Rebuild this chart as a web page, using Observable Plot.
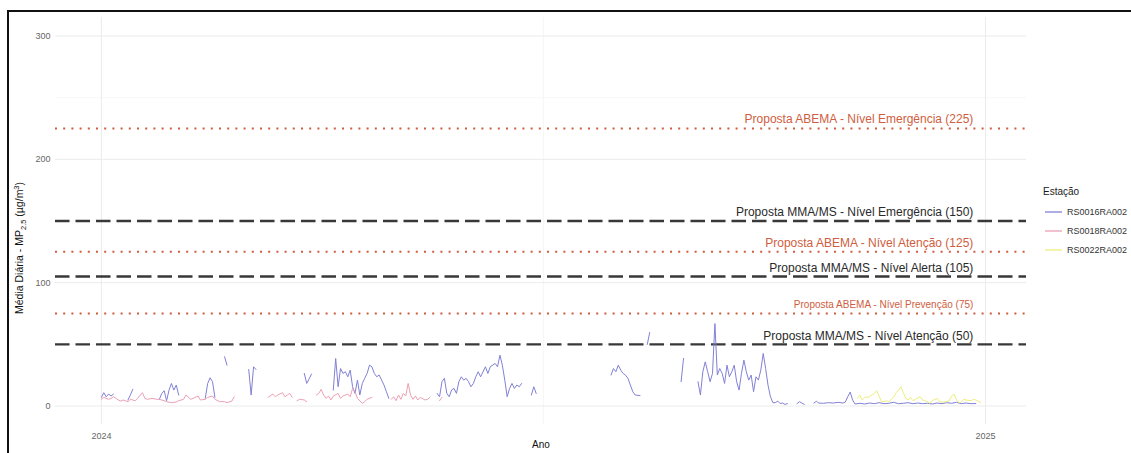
<!DOCTYPE html>
<html>
<head>
<meta charset="utf-8">
<script src="https://cdn.jsdelivr.net/npm/d3@7"></script>
<script src="https://cdn.jsdelivr.net/npm/@observablehq/plot@0.6"></script>
<style>
  html, body { margin: 0; padding: 0; background: #fff; }
  #wrap { position: relative; width: 1131px; height: 453px; overflow: hidden;
          font-family: "Liberation Sans", Arial, sans-serif; }
  #frame { position: absolute; left: 7px; top: 10px; width: 1300px; height: 600px;
           border-top: 2px solid #111; border-left: 2px solid #111; box-sizing: border-box; }
  #chart { position: absolute; left: 0; top: 0; }
  #legend { position: absolute; left: 1043px; top: 185px; }
  #legend .title { font-size: 10px; line-height: 14px; color: #1a1a1a; margin-bottom: 3px; }
  #legend .row { display: flex; align-items: center; height: 19px; font-size: 9px; color: #333; }
</style>
</head>
<body>
<div id="wrap">
  <div id="frame"></div>
  <div id="chart"></div>
  <div id="legend"></div>
</div>
<script>
// Daily mean PM2.5 per station, 2024: [day of year (0 = 1 Jan), µg/m³]; null breaks the line
const rs0016 = [
  [0,7.0],[1,10.8],[2,7.5],[3,9.7],[4,8.1],[5,9.7],[6,null],
  [11,4.9],[12,9.0],[13,13.5],[14,null],
  [24,5.4],[25,10.2],[26,12.4],[27,4.3],[28,12.9],[29,18.3],[30,12.9],[31,17.0],[32,8.9],[33,null],
  [43,6.2],[44,18.3],[45,22.9],[46,19.7],[47,7.0],[48,null],
  [51,39.9],[52,33.1],[53,null],
  [61,29.6],[62,8.9],[63,31.8],[64,29.6],[65,null],
  [84,26.4],[85,18.3],[86,22.0],[87,25.9],[88,null],
  [96,12.9],[97,38.5],[98,15.6],[99,30.4],[100,26.4],[101,27.8],[102,23.7],[103,29.1],[104,15.6],
  [105,10.2],[106,21.0],[107,8.9],[108,18.3],[109,22.4],[110,26.4],[111,33.1],[112,31.8],[113,26.4],
  [114,23.7],[115,25.1],[116,21.0],[117,17.0],[118,11.6],[119,6.2],[120,null],
  [139,10.2],[140,7.5],[141,19.7],[142,22.4],[143,10.2],[144,7.5],[145,13.0],[146,14.3],[147,10.2],
  [148,19.7],[149,23.7],[150,21.0],[151,22.4],[152,19.7],[153,15.6],[154,18.3],[155,23.7],[156,27.8],
  [157,23.7],[159,31.8],[160,26.4],[161,31.8],[163,34.5],[164,31.8],[165,41.2],[166,33.1],[167,21.0],
  [168,7.5],[169,14.3],[170,18.3],[171,14.3],[172,17.0],[173,15.6],[174,18.3],[175,null],
  [178,8.9],[179,15.6],[180,10.2],[181,null],
  [211,25.1],[212,30.4],[213,27.8],[214,33.1],[215,29.1],[216,26.4],[217,25.0],[218,22.4],[219,17.0],
  [220,11.6],[221,8.9],[223,8.4],[224,null],
  [226,49.9],[227,59.6],[228,null],
  [240,19.7],[241,38.5],[242,null],
  [247,19.7],[248,8.9],[249,27.8],[250,35.8],[251,27.8],[252,19.7],[253,26.4],[254,66.8],[255,25.1],
  [256,30.4],[257,26.4],[258,18.3],[259,33.1],[260,23.7],[261,27.8],[262,33.1],[263,19.7],[264,12.9],
  [265,26.4],[266,37.2],[267,27.8],[268,21.0],[269,25.1],[270,11.6],[271,23.7],[272,21.0],[273,29.1],
  [274,42.6],[275,30.4],[276,16.7],[277,7.5],[278,2.7],[279,2.7],[280,4.0],[281,2.0],[282,2.4],
  [283,1.3],[284,1.9],[285,null],
  [288,1.9],[289,3.5],[290,2.4],[291,1.3],[292,null],
  [295,2.4],[296,3.8],[297,2.4],[299,2.2],[301,2.7],[303,2.4],[305,3.0],[307,2.4],[308,3.2],[309,7.5],
  [310,11.3],[311,4.9],[312,1.6],[314,2.2],[316,1.6],[318,2.4],[320,1.9],[322,2.7],[324,1.9],[326,2.2],
  [328,3.0],[330,1.9],[332,2.2],[334,2.7],[336,1.9],[338,2.4],[340,1.9],[342,2.2],[344,1.6],[346,2.4],
  [348,1.9],[350,2.7],[352,2.2],[354,3.0],[356,1.9],[358,2.4],[360,1.9],[362,2.0]
];
const rs0018 = [
  [0,5.4],[1,7.0],[3,5.4],[4,6.2],[5,7.5],[7,4.9],[8,4.0],[9,4.9],[11,3.5],[12,5.4],[14,4.3],[15,6.2],
  [17,10.8],[18,6.2],[19,5.4],[21,6.2],[23,5.4],[24,5.4],[26,4.3],[27,3.5],[29,2.7],[31,3.2],[32,4.3],
  [34,5.4],[35,8.9],[37,5.4],[38,6.2],[40,8.1],[41,4.9],[43,5.4],[44,7.0],[46,8.1],[47,5.4],[49,3.5],
  [51,3.5],[52,2.7],[54,4.0],[55,7.5],[56,null],
  [69,7.0],[71,9.7],[72,7.5],[73,8.9],[75,10.8],[76,7.5],[77,8.9],[78,10.2],[79,7.0],[80,null],
  [81,4.3],[82,5.4],[84,4.9],[85,3.5],[86,null],
  [89,8.9],[90,10.2],[91,13.5],[92,8.9],[93,6.2],[94,8.1],[95,4.9],[96,8.1],[98,10.2],[99,6.2],
  [100,8.1],[102,9.7],[103,7.5],[104,14.3],[105,11.6],[106,6.2],[108,2.2],[109,3.5],[110,5.4],
  [112,7.0],[113,null],
  [120,5.4],[121,7.5],[122,4.3],[123,8.9],[124,5.4],[125,10.2],[126,8.1],[127,18.3],[128,8.9],
  [129,5.4],[130,8.1],[131,4.9],[132,7.0],[134,4.9],[135,5.4],[136,7.0],[137,null],
  [140,4.3],[141,7.0]
];
const rs0022 = [
  [313,6.2],[314,8.9],[315,4.9],[316,7.0],[318,7.5],[319,8.9],[320,10.2],[321,12.4],[323,3.5],
  [324,3.5],[325,4.3],[326,3.5],[328,7.0],[329,10.8],[330,12.9],[331,15.6],[332,10.8],[333,6.2],
  [334,4.9],[335,7.0],[336,4.3],[337,5.4],[339,7.5],[340,4.9],[342,3.5],[343,2.2],[344,4.3],
  [346,6.2],[347,3.5],[348,3.2],[350,3.5],[351,4.3],[352,8.1],[353,9.7],[354,4.9],[355,2.7],
  [356,3.2],[357,5.4],[358,4.9],[360,4.3],[361,5.4],[362,4.9],[364,2.7]
];

const stations = ["RS0016RA002", "RS0018RA002", "RS0022RA002"];
const stationColors = ["#8181d6", "#eda0b4", "#eeee7c"];

// Reference levels (µg/m³)
const abemaLevels = [225, 125, 75];
const abemaLabels = [
  "Proposta ABEMA - Nível Emergência (225)",
  "Proposta ABEMA - Nível Atenção (125)",
  "Proposta ABEMA - Nível Prevenção (75)"
];
const mmaLevels = [150, 105, 50];
const mmaLabels = [
  "Proposta MMA/MS - Nível Emergência (150)",
  "Proposta MMA/MS - Nível Alerta (105)",
  "Proposta MMA/MS - Nível Atenção (50)"
];

const yTicks = [0, 100, 200, 300];
const yMinorTicks = [50, 150, 250];
const xTicks = ["2024-01-01", "2025-01-01"];
const xMinorTicks = ["2024-07-02"];
const labelDate = "2024-12-27";

const day0 = Date.UTC(2024, 0, 1);
const toDate = (s) => new Date(s + "T00:00:00Z");
const rows = [rs0016, rs0018, rs0022].flatMap((series, k) =>
  series.map(([d, v]) => ({station: stations[k], date: new Date(day0 + d * 864e5), value: v}))
);
const abema = abemaLevels.map((level, i) => ({level, label: abemaLabels[i]}));
const mma = mmaLevels.map((level, i) => ({level, label: mmaLabels[i]}));

const abemaColor = "#cf5d40";
const mmaColor = "#383838";
const font = "'Liberation Sans', Arial, sans-serif";

const chart = Plot.plot({
  width: 1131,
  height: 453,
  marginLeft: 55,
  marginRight: 105,
  marginTop: 17,
  marginBottom: 29,
  style: {fontFamily: font, background: "transparent", overflow: "visible"},
  x: {type: "utc", domain: [toDate("2023-12-13"), toDate("2025-01-18")]},
  y: {domain: [-15, 315]},
  color: {domain: stations, range: stationColors},
  marks: [
    // panel grid
    Plot.ruleY(yMinorTicks, {stroke: "#f3f3f3", strokeWidth: 0.7}),
    Plot.ruleX(xMinorTicks.map(toDate), {stroke: "#f3f3f3", strokeWidth: 0.7}),
    Plot.ruleY(yTicks, {stroke: "#ebebeb", strokeWidth: 1}),
    Plot.ruleX(xTicks.map(toDate), {stroke: "#ebebeb", strokeWidth: 1}),
    Plot.axisY({ticks: yTicks, tickSize: 0, tickPadding: 5, fontSize: 9, color: "#666", label: null}),
    Plot.axisX({ticks: xTicks.map(toDate), tickFormat: "%Y", tickSize: 0, tickPadding: 8,
                fontSize: 9, color: "#666", label: null}),
    // reference levels
    Plot.ruleY(abema, {y: "level", stroke: abemaColor, strokeWidth: 2, strokeDasharray: "2,6.2"}),
    Plot.ruleY(mma, {y: "level", stroke: mmaColor, strokeWidth: 2.3, strokeDasharray: "14.5,6"}),
    // station series
    Plot.line(rows, {x: "date", y: "value", z: "station", stroke: "station", strokeWidth: 1}),
    // level labels
    Plot.text(abema, {x: () => toDate(labelDate), y: "level", text: "label", textAnchor: "end",
                      dy: -9, fill: abemaColor, fontSize: (d) => d.level === 75 ? 10 : 12}),
    Plot.text(mma, {x: () => toDate(labelDate), y: "level", text: "label", textAnchor: "end",
                    dy: -8.5, fill: "#2a2a2a", fontSize: 12}),
    Plot.text(["Ano"], {frameAnchor: "bottom", dy: 23, fontSize: 10, fill: "#111"})
  ]
});

// y-axis title with subscript and superscript
const ytitle = d3.select(chart).append("text")
  .attr("transform", "translate(23,248) rotate(-90)")
  .attr("text-anchor", "middle")
  .attr("font-size", 10.5)
  .attr("fill", "#111")
  .attr("font-family", font);
ytitle.append("tspan").text("Média Diária - MP");
ytitle.append("tspan").attr("dy", 2.5).attr("font-size", 7.5).text("2.5");
ytitle.append("tspan").attr("dy", -2.5).text(" (µg/m");
ytitle.append("tspan").attr("dy", -4).attr("font-size", 7.5).text("3");
ytitle.append("tspan").attr("dy", 4).text(")");

document.getElementById("chart").appendChild(chart);

// legend
const color = chart.scale("color");
const legend = d3.select("#legend");
legend.append("div").attr("class", "title").text("Estação");
stations.forEach((s) => {
  const row = legend.append("div").attr("class", "row");
  const key = row.append("svg").attr("width", 24).attr("height", 12);
  key.append("line").attr("x1", 2).attr("x2", 19).attr("y1", 6).attr("y2", 6)
    .attr("stroke", color.apply(s)).attr("stroke-width", 1.3);
  row.append("span").text(s);
});
</script>
</body>
</html>
